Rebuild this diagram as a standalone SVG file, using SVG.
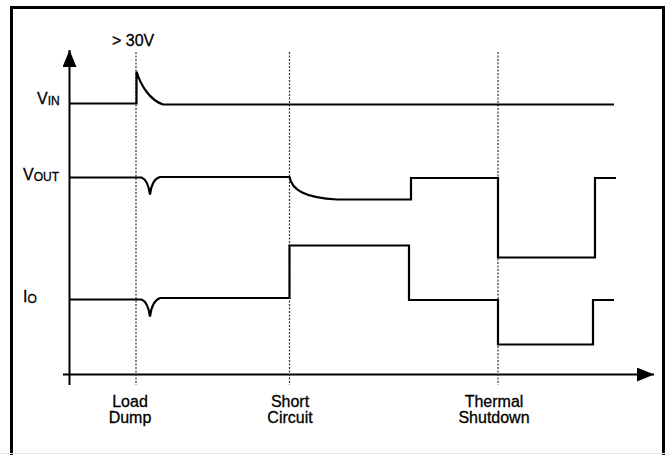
<svg xmlns="http://www.w3.org/2000/svg" width="666" height="455" viewBox="0 0 666 455">
<style>
.sig{fill:none;stroke:#000;stroke-width:2.2;stroke-linejoin:miter}
.axis{fill:none;stroke:#000;stroke-width:2}
.dash{fill:none;stroke:#333;stroke-width:1.2;stroke-dasharray:2,1.5}
.lbl{font-family:"Liberation Sans",Arial,sans-serif;font-size:16px;fill:#000;stroke:#000;stroke-width:0.3}
.sub{font-size:12px}
</style>
<defs>
<marker id="ah" markerWidth="17" markerHeight="14" refX="17" refY="7" orient="auto" markerUnits="userSpaceOnUse">
<path d="M0,0 L17,7 L0,14 Z" fill="#000"/>
</marker>
</defs>
<rect x="0" y="0" width="666" height="455" fill="#fff"/>
<path d="M11.5,460 V7.5 H663.5 V460" fill="none" stroke="#000" stroke-width="3"/>
<line x1="0" y1="453.5" x2="666" y2="453.5" stroke="#e6e6e6" stroke-width="1"/>
<g id="connectors">
<line class="axis" x1="69.5" y1="385" x2="69.5" y2="50" marker-end="url(#ah)"/>
<line class="axis" x1="63" y1="374.5" x2="654" y2="374.5" marker-end="url(#ah)"/>
<line class="dash" x1="136" y1="52" x2="136" y2="385"/>
<line class="dash" x1="289.5" y1="52" x2="289.5" y2="385"/>
<line class="dash" x1="498" y1="52" x2="498" y2="385"/>
</g>
<g id="vin">
<path class="sig" d="M69.5,103.5 H136.5 V71.5 C141,86 150,100 163,104.5 H614"/>
<text class="lbl" x="37" y="104">V<tspan class="sub" dy="1">IN</tspan></text>
<text class="lbl" x="112" y="46">&gt; 30V</text>
</g>
<g id="vout">
<path class="sig" d="M69.5,177.5 H141.5 Q148,180 150,194.5 Q152,179 160,177 H289.5 C292,190 305,198 337,199.5 H411 V178 H498 V257.5 H595 V178 H616"/>
<text class="lbl" x="23" y="179.5">V<tspan class="sub" dy="1">OUT</tspan></text>
</g>
<g id="io">
<path class="sig" d="M69.5,299.5 H141.5 Q148,302 150,316.5 Q152,301 160,298 H289.5 V245.5 H409 V300 H498 V344.5 H593 V300 H614"/>
<text class="lbl" x="23" y="302">I<tspan class="sub" dy="1">O</tspan></text>
</g>
<g id="labels">
<text class="lbl" x="130" y="407" text-anchor="middle">Load</text>
<text class="lbl" x="130" y="423" text-anchor="middle">Dump</text>
<text class="lbl" x="290" y="407" text-anchor="middle">Short</text>
<text class="lbl" x="290" y="423" text-anchor="middle">Circuit</text>
<text class="lbl" x="494" y="407" text-anchor="middle">Thermal</text>
<text class="lbl" x="494" y="423" text-anchor="middle">Shutdown</text>
</g>
</svg>
